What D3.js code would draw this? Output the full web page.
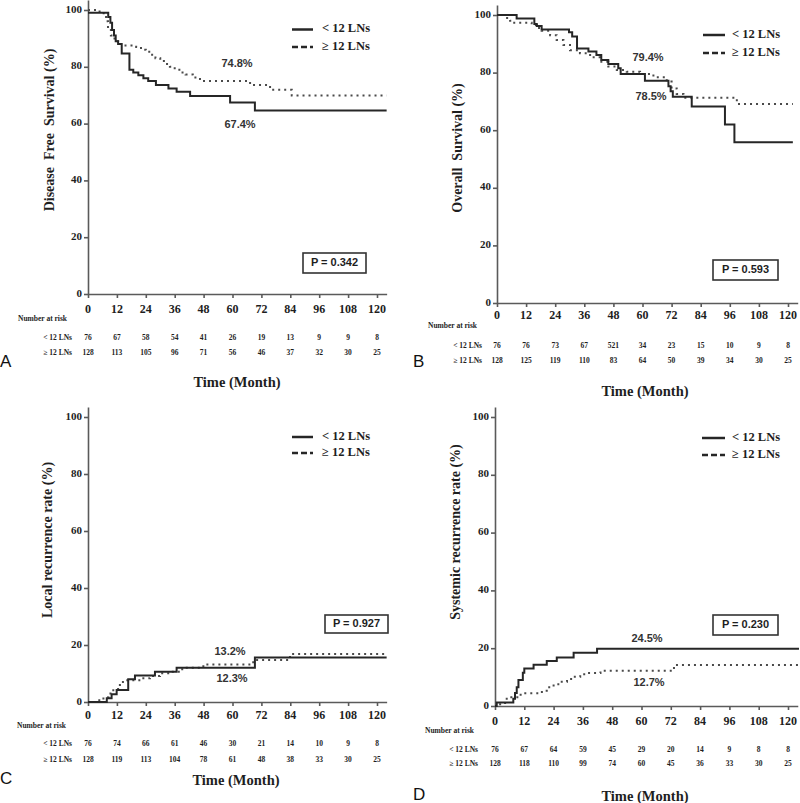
<!DOCTYPE html>
<html><head><meta charset="utf-8">
<script src="https://cdn.jsdelivr.net/npm/d3@7/dist/d3.min.js"></script>
<style>
body{margin:0;background:#fff;}
svg{display:block;}
.serif{font-family:"Liberation Serif","Times New Roman",serif;font-weight:bold;}
.sans{font-family:"Liberation Sans",Arial,sans-serif;}
</style></head>
<body>
<svg id="chart" width="800" height="803"></svg>
<script>
// ---------- DATA ----------
const groups = ["< 12 LNs", "\u2265 12 LNs"];
const timeTicks = [0,12,24,36,48,60,72,84,96,108,120];
const yTicks = [0,20,40,60,80,100];

// Panel A: Disease free survival (time, %)
const dfsLow = [[0,99],[8.4,97.5],[9.3,95.5],[10,93],[10.8,91],[11.5,89],[12.5,88],[14,84.7],[17.2,79],[18.8,78],[20.9,77],[23,76],[25,75],[28.2,73.6],[33.4,72.4],[36.8,71.2],[42.4,69.7],[59,67.4],[69.3,64.6],[124,64.6]];
const dfsHigh = [[0,100],[3.5,99.5],[6.5,98],[7.5,96],[8.3,93.5],[9.5,91],[11,89],[12.5,88],[14.5,87.5],[20,87],[22,86],[24,85.3],[26,84.2],[28,83],[30,82],[32,81],[34,80],[36,79],[38.5,78],[40.5,77.3],[43.5,76.2],[46.5,75.0],[67.3,73.6],[75.6,71.9],[84.6,69.9],[124,69.9]];
const dfsRiskLow = [76,67,58,54,41,26,19,13,9,9,8];
const dfsRiskHigh = [128,113,105,96,71,56,46,37,32,30,25];

// Panel B: Overall survival
const osLow = [[0,100],[8.1,98.8],[15.4,96.9],[16.4,96.2],[18.4,95],[29.7,94],[31,92.5],[33,88.4],[37.7,87.3],[41,86.1],[43,84.4],[45.9,83],[50,81.5],[51,79.5],[61,77.2],[70.7,75.3],[71.6,73.5],[72.5,71.6],[80.3,68.2],[94,62],[97.9,55.8],[122,55.8]];
const osHigh = [[0,100],[3.7,99],[5.4,98],[6,97.3],[14.3,96.5],[16.4,95.5],[18.4,94.5],[21.9,93],[24.6,91.3],[27.4,89.6],[30.1,87.8],[34.2,86.7],[38.4,85.3],[42.5,83.8],[45.9,82.1],[49.4,80.9],[53.5,80.3],[59,79.5],[64.5,78.4],[70,76.9],[72,74.5],[74.1,72.6],[76.9,71.3],[98.9,69.1],[122,69.1]];
const osRiskLow = [76,76,73,67,521,34,23,15,10,9,8];
const osRiskHigh = [128,125,119,110,83,64,50,39,34,30,25];

// Panel C: Local recurrence rate
const lrLow = [[0,0],[7.8,1.3],[9.8,2.7],[11.9,4.2],[16.7,8],[19.5,9.3],[27.8,10.6],[36.8,12.0],[69.3,15.6],[124,15.6]];
const lrHigh = [[0,0],[3.6,0.6],[6.4,1.7],[8.5,3],[10.5,4.5],[12.5,6],[14.5,7.6],[22,8.3],[25.7,9.1],[29.9,10.1],[34,10.6],[38.2,11.5],[41,12.0],[47.9,13.2],[68.6,14.7],[83.9,16.8],[124,16.8]];
const lrRiskLow = [76,74,66,61,46,30,21,14,10,9,8];
const lrRiskHigh = [128,119,113,104,78,61,48,38,33,30,25];

// Panel D: Systemic recurrence rate
const srLow = [[0,0],[0.7,1.2],[7.5,2.5],[8.2,4.5],[8.9,6.5],[9.6,9],[11.4,11.5],[12,13],[15.8,14.3],[21.2,15.6],[25.3,16.8],[32.2,18.4],[41.8,19.8],[124.5,19.8]];
const srHigh = [[0,0],[2.1,1],[4.8,3],[10.5,4.4],[19.2,5.3],[21.2,6.5],[24,7.5],[26.7,8.4],[29.5,9.3],[32.2,10.1],[34.9,11],[37.7,11.4],[43.2,12.2],[73.3,14.2],[124.5,14.2]];
const srRiskLow = [76,67,64,59,45,29,20,14,9,8,8];
const srRiskHigh = [128,118,110,99,74,60,45,36,33,30,25];

const panelLetters = ["A","B","C","D"];
const yTitles = ["Disease  Free  Survival (%)","Overall  Survival (%)","Local recurrence rate (%)","Systemic recurrence rate (%)"];
const pValues = ["P = 0.342","P = 0.593","P = 0.927","P = 0.230"];
const pctLabels = [["74.8%","67.4%"],["79.4%","78.5%"],["13.2%","12.3%"],["24.5%","12.7%"]];

// ---------- LAYOUT ----------
const panels = [
  {low:dfsLow, high:dfsHigh, rl:dfsRiskLow, rh:dfsRiskHigh, x0:88, x120:377, y0:294, y100:10,
   risk:[18,72,319,338,353], letter:[0,367], time:[237,387], ytitle:[51,130], leg:[292,313,322,29.5,47],
   pbox:[303,253,63,20], pct:[[237,64],[240,125]], xlab:310},
  {low:osLow, high:osHigh, rl:osRiskLow, rh:osRiskHigh, x0:497, x120:788, y0:303, y100:15,
   risk:[428,482,326,346,361], letter:[413,367], time:[645,396], ytitle:[459,148], leg:[703,725,732,35,53],
   pbox:[713,260,65,20], pct:[[648,58],[651,97]], xlab:316},
  {low:lrLow, high:lrHigh, rl:lrRiskLow, rh:lrRiskHigh, x0:88, x120:377, y0:702, y100:417,
   risk:[17,72,726,744,760], letter:[0,784], time:[236,785], ytitle:[49,540], leg:[292,313,322,437,453],
   pbox:[325,615,63,18], pct:[[230,652],[232,679]], xlab:716},
  {low:srLow, high:srHigh, rl:srRiskLow, rh:srRiskHigh, x0:495, x120:788, y0:706, y100:417,
   risk:[425,478,731,750,764], letter:[413,800], time:[645,801], ytitle:[457,532], leg:[702,725,732,438,455],
   pbox:[713,615,65,20], pct:[[647,639],[649,683]], xlab:722}
];

const svg = d3.select("#chart");
const lineCol = "#262626", axisCol = "#5a5a5a", txtCol = "#1e1e1e";

panels.forEach((p, i) => {
  const g = svg.append("g");
  const xEnd = p.x0 + (p.x120 - p.x0) * 124/120;
  const yTop = p.y0 - (p.y0 - p.y100) * 1.035;
  const x = d3.scaleLinear().domain([0,124]).range([p.x0, xEnd]);
  const y = d3.scaleLinear().domain([0,103.5]).range([p.y0, yTop]);

  // axes
  const xa = g.append("g").attr("transform",`translate(0,${p.y0})`)
    .call(d3.axisBottom(x).tickValues(timeTicks).tickSize(4).tickSizeOuter(0).tickFormat(""));
  const ya = g.append("g").attr("transform",`translate(${p.x0},0)`)
    .call(d3.axisLeft(y).tickValues(yTicks).tickSize(4).tickSizeOuter(0).tickFormat(""));
  [xa,ya].forEach(a=>{a.selectAll("path,line").attr("stroke",axisCol).attr("stroke-width",1.6);});

  // tick labels
  g.selectAll(".xl").data(timeTicks).join("text").attr("class","serif")
    .attr("x", d=>x(d)).attr("y", p.xlab).attr("dominant-baseline","middle")
    .attr("text-anchor","middle").attr("font-size",12).attr("fill",txtCol).text(d=>d);
  g.selectAll(".yl").data(yTicks).join("text").attr("class","serif")
    .attr("x", p.x0-6).attr("y", d=>y(d)).attr("dominant-baseline","middle")
    .attr("text-anchor","end").attr("font-size",11).attr("fill",txtCol).text(d=>d);

  // curves
  const line = d3.line().x(d=>x(d[0])).y(d=>y(d[1])).curve(d3.curveStepAfter);
  g.append("path").datum(p.high).attr("d",line).attr("fill","none")
    .attr("stroke","#4a4a4a").attr("stroke-width",2).attr("stroke-dasharray","2,4");
  g.append("path").datum(p.low).attr("d",line).attr("fill","none")
    .attr("stroke",lineCol).attr("stroke-width",2);

  // legend
  const [lx1,lx2,ltx,ly1,ly2] = p.leg;
  g.append("line").attr("x1",lx1).attr("x2",lx2).attr("y1",ly1).attr("y2",ly1)
    .attr("stroke",lineCol).attr("stroke-width",2.5);
  g.append("line").attr("x1",lx1).attr("x2",lx2).attr("y1",ly2).attr("y2",ly2)
    .attr("stroke",lineCol).attr("stroke-width",2.5).attr("stroke-dasharray","6,3");
  g.selectAll(".lg").data(groups).join("text").attr("class","serif")
    .attr("x",ltx).attr("y",(d,k)=>k?ly2:ly1).attr("dominant-baseline","middle")
    .attr("font-size",12.5).attr("fill",txtCol).text(d=>d);

  // p box
  const [bx,by,bw,bh] = p.pbox;
  g.append("rect").attr("x",bx).attr("y",by).attr("width",bw).attr("height",bh)
    .attr("fill","#fff").attr("stroke","#333").attr("stroke-width",1.6);
  g.append("text").attr("class","sans").attr("x",bx+bw/2).attr("y",by+bh/2+0.5)
    .attr("text-anchor","middle").attr("dominant-baseline","middle")
    .attr("font-size",11).attr("font-weight","bold").attr("fill",txtCol).text(pValues[i]);

  // percentage labels
  pctLabels[i].forEach((t,k)=>{
    g.append("text").attr("class","sans").attr("x",p.pct[k][0]).attr("y",p.pct[k][1])
      .attr("text-anchor","middle").attr("dominant-baseline","middle")
      .attr("font-size",11).attr("font-weight","bold").attr("fill","#333").text(t);
  });

  // y title
  g.append("text").attr("class","serif")
    .attr("transform",`translate(${p.ytitle[0]},${p.ytitle[1]}) rotate(-90)`)
    .attr("text-anchor","middle").attr("dominant-baseline","middle")
    .attr("font-size",14).attr("fill",txtCol).attr("xml:space","preserve")
    .style("white-space","pre").text(yTitles[i]);

  // risk table
  const [rx,rlx,ry0,ry1,ry2] = p.risk;
  g.append("text").attr("class","serif").attr("x",rx).attr("y",ry0)
    .attr("dominant-baseline","middle").attr("font-size",7.5).attr("fill",txtCol).text("Number at risk");
  g.selectAll(".rlab").data(groups).join("text").attr("class","serif")
    .attr("x",rlx).attr("y",(d,k)=>k?ry2:ry1).attr("text-anchor","end")
    .attr("dominant-baseline","middle").attr("font-size",7.5).attr("fill",txtCol).text(d=>d);
  [p.rl,p.rh].forEach((arr,k)=>{
    g.selectAll(".rn"+k).data(arr).join("text").attr("class","serif")
      .attr("x",(d,j)=>x(timeTicks[j])).attr("y",k?ry2:ry1)
      .attr("text-anchor","middle").attr("dominant-baseline","middle")
      .attr("font-size",7.5).attr("fill",txtCol).text(d=>d);
  });

  // time title
  g.append("text").attr("class","serif").attr("x",p.time[0]).attr("y",p.time[1])
    .attr("text-anchor","middle").attr("font-size",14.5).attr("fill",txtCol).text("Time (Month)");

  // panel letter
  g.append("text").attr("class","sans").attr("x",p.letter[0]).attr("y",p.letter[1])
    .attr("font-size",17).attr("fill","#111").text(panelLetters[i]);
});
</script>
</body></html>
